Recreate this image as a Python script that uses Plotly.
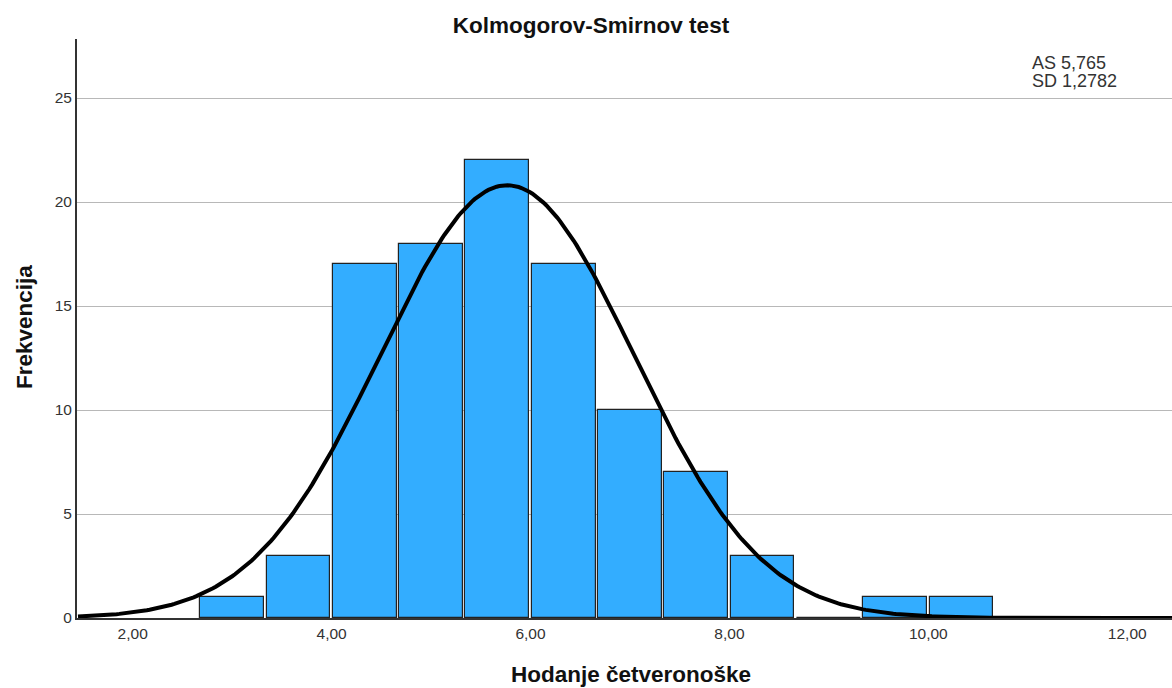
import numpy as np
import plotly.graph_objects as go

# Data
bin_left = [8/3, 10/3, 4.0, 14/3, 16/3, 6.0, 20/3, 22/3, 8.0, 26/3, 28/3, 10.0]
counts = [1, 3, 17, 18, 22, 17, 10, 7, 3, 0, 1, 1]
mean_as = 5.765
sd = 1.2782
n_total = 100
bin_width = 2/3
x_ticks = [2, 4, 6, 8, 10, 12]
x_tick_labels = ["2,00", "4,00", "6,00", "8,00", "10,00", "12,00"]
y_ticks = [0, 5, 10, 15, 20, 25]

centers = [b + bin_width / 2 for b in bin_left]

xs = np.linspace(1.45, 12.5, 400)
ys = n_total * bin_width / (sd * np.sqrt(2 * np.pi)) * np.exp(-0.5 * ((xs - mean_as) / sd) ** 2)

fig = go.Figure()
fig.add_trace(go.Bar(
    x=centers, y=counts, width=bin_width - 0.025,
    marker=dict(color="#33adff", line=dict(color="#222222", width=1.2)),
    hoverinfo="x+y",
))
fig.add_trace(go.Scatter(
    x=xs, y=ys, mode="lines", line=dict(color="black", width=4), hoverinfo="skip"
))

W, H = 1172, 688
L, R, T, B = 77, 0, 39, 70
font_family = "Liberation Sans, Arial, sans-serif"
fig.update_layout(
    width=W, height=H,
    margin=dict(l=L, r=R, t=T, b=B),
    paper_bgcolor="white", plot_bgcolor="white",
    showlegend=False,
    font=dict(family=font_family, size=15.5, color="#333333"),
    title=dict(text="<b>Kolmogorov-Smirnov test</b>", x=591/W, xanchor="center",
               y=1 - 25/H, yanchor="middle", font=dict(size=22.5, color="#111111")),
    xaxis=dict(range=[1.44, 12.45], tickvals=x_ticks, ticktext=x_tick_labels,
               showgrid=False, zeroline=False, showline=True, linecolor="#333333", linewidth=2,
               ticks="", ticklen=0, tickfont=dict(size=15.5, color="#333333")),
    yaxis=dict(range=[0, 27.84], tickvals=y_ticks, showgrid=True, gridcolor="#b8b8b8", gridwidth=1,
               zeroline=False, showline=True, linecolor="#333333", linewidth=2,
               ticks="", tickfont=dict(size=15.5, color="#333333")),
    bargap=0,
)
# Axis titles
fig.add_annotation(xref="paper", yref="paper", x=(631 - L) / (W - L), y=-(674 - (H - B)) / (H - T - B),
                   xanchor="center", yanchor="middle", showarrow=False,
                   text="<b>Hodanje četveronoške</b>", font=dict(size=22.5, color="#111111", family=font_family))
fig.add_annotation(xref="paper", yref="paper", x=-(L - 24) / (W - L), y=0.5 - (327 - 328.5) / (H - T - B),
                   xanchor="center", yanchor="middle", showarrow=False, textangle=-90,
                   text="<b>Frekvencija</b>", font=dict(size=22.5, color="#111111", family=font_family))
# Statistics box
fig.add_annotation(xref="paper", yref="paper", x=(1030 - L) / (W - L), y=1 - (62.5 - T) / (H - T - B),
                   xanchor="left", yanchor="middle", align="left", showarrow=False,
                   text="AS 5,765", font=dict(size=18, color="#333333", family=font_family))
fig.add_annotation(xref="paper", yref="paper", x=(1030 - L) / (W - L), y=1 - (81.5 - T) / (H - T - B),
                   xanchor="left", yanchor="middle", align="left", showarrow=False,
                   text="SD 1,2782", font=dict(size=18, color="#333333", family=font_family))
fig.write_html("out.html", config={"displayModeBar": False},
               post_script="document.body.style.margin='0';document.body.style.overflow='hidden';")
